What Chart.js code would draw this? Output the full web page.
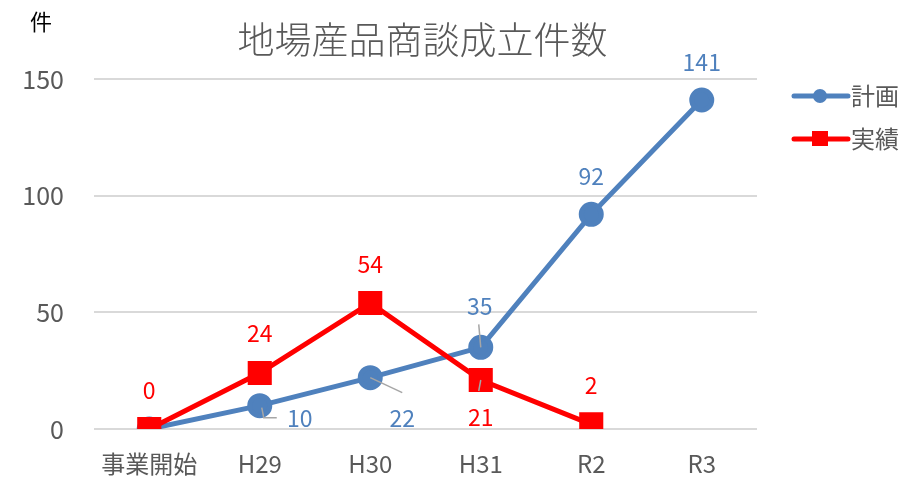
<!DOCTYPE html>
<html>
<head>
<meta charset="utf-8">
<script src="https://cdn.jsdelivr.net/npm/chart.js@4/dist/chart.umd.min.js"></script>
<style>
  html, body { margin: 0; padding: 0; background: #fff; }
  #wrap { width: 913px; height: 480px; }
</style>
</head>
<body>
<div id="wrap"><canvas id="salesChart" width="913" height="480"></canvas></div>
<script>
// data
const categories = ['事業開始', 'H29', 'H30', 'H31', 'R2', 'R3'];
const planValues = [0, 10, 22, 35, 92, 141];
const actualValues = [0, 24, 54, 21, 2, null];
const yTicks = [0, 50, 100, 150];

const chartTitle = '地場産品商談成立件数';
const unitLabel = '件';
const planName = '計画';
const actualName = '実績';

const FONT = '"Noto Sans CJK JP", "Noto Sans", sans-serif';
const BLUE = '#4F81BD';
const RED = '#FF0000';
const GREY_TEXT = '#595959';

// label offsets (dx, dy from the point) and the kind of leader line
const planLabelPos = [null, [40, 13, 'elbow'], [32, 41, 'line'], [-1, -41, 'line'], [0, -38], [0, -38]];
const actualLabelPos = [[0, -39], [0, -40], [0, -39], [0, 37, 'line'], [0, -39], null];

//  Draws title, unit label, data labels and legend
const decorPlugin = {
  id: 'decor',
  afterDatasetsDraw(chart) {
    const ctx = chart.ctx;
    const area = chart.chartArea;
    ctx.save();
    ctx.textAlign = 'center';
    ctx.textBaseline = 'middle';

    ctx.fillStyle = GREY_TEXT;
    ctx.font = '300 37px ' + FONT;
    ctx.fillText(chartTitle, (area.left + area.right) / 2 - 3, 40);

    ctx.fillStyle = '#000';
    ctx.font = '22px ' + FONT;
    ctx.fillText(unitLabel, 41, 22);

    drawLabels(chart, 0, planLabelPos, BLUE);
    drawLabels(chart, 1, actualLabelPos, RED);

    // legend
    drawLegendItem(ctx, 794, 96, BLUE, 'circle', planName);
    drawLegendItem(ctx, 794, 139, RED, 'rect', actualName);
    ctx.restore();
  }
};

function drawLabels(chart, dsIndex, offsets, color) {
  const ctx = chart.ctx;
  const meta = chart.getDatasetMeta(dsIndex);
  const values = chart.data.datasets[dsIndex].data;
  meta.data.forEach((pt, i) => {
    const off = offsets[i];
    if (!off || values[i] === null) return;
    const lx = pt.x + off[0];
    const ly = pt.y + off[1];
    ctx.strokeStyle = '#A6A6A6';
    ctx.lineWidth = 1.5;
    if (off[2] === 'line') {
      ctx.beginPath();
      ctx.moveTo(pt.x, pt.y);
      ctx.lineTo(pt.x + (off[0] > 20 ? off[0] : -2), off[1] > 0 ? ly - 26 : ly + 18);
      ctx.stroke();
    } else if (off[2] === 'elbow') {
      ctx.beginPath();
      ctx.moveTo(pt.x + 2, pt.y + 2);
      ctx.lineTo(pt.x + 4, pt.y + 12);
      ctx.lineTo(pt.x + 17, pt.y + 12);
      ctx.stroke();
    }
    ctx.fillStyle = color;
    ctx.font = '23px ' + FONT;
    ctx.fillText(String(values[i]), lx, ly);
  });
}

function drawLegendItem(ctx, x, y, color, shape, text) {
  ctx.strokeStyle = color;
  ctx.fillStyle = color;
  ctx.lineWidth = 5;
  ctx.lineCap = 'round';
  ctx.beginPath();
  ctx.moveTo(x, y);
  ctx.lineTo(x + 54, y);
  ctx.stroke();
  if (shape === 'circle') {
    ctx.beginPath();
    ctx.arc(x + 26, y, 7, 0, Math.PI * 2);
    ctx.fill();
  } else {
    ctx.fillRect(x + 18, y - 8, 16, 15);
  }
  ctx.fillStyle = GREY_TEXT;
  ctx.font = '24px ' + FONT;
  ctx.textAlign = 'left';
  ctx.fillText(text, x + 57, y);
  ctx.textAlign = 'center';
}

const salesChart = new Chart(document.getElementById('salesChart').getContext('2d'), {
  type: 'line',
  data: {
    labels: categories,
    datasets: [
      {
        label: planName,
        data: planValues,
        borderColor: BLUE,
        backgroundColor: BLUE,
        borderWidth: 5,
        pointStyle: 'circle',
        pointRadius: 10,
        pointHoverRadius: 10,
        order: 2
      },
      {
        label: actualName,
        data: actualValues,
        borderColor: RED,
        backgroundColor: RED,
        borderWidth: 5,
        pointStyle: 'rect',
        pointRadius: 13.5,
        pointHoverRadius: 13.5,
        order: 1
      }
    ]
  },
  options: {
    responsive: false,
    animation: false,
    events: [],
    layout: { padding: { top: 79, right: 156, bottom: 0, left: 0 } },
    plugins: {
      legend: { display: false },
      title: { display: false },
      tooltip: { enabled: false }
    },
    scales: {
      x: {
        offset: true,
        grid: { display: false, drawTicks: false },
        border: { display: false },
        ticks: { color: GREY_TEXT, font: { family: FONT, size: 24 }, padding: 20 },
        afterFit(scale) { scale.height = 51; }
      },
      y: {
        min: 0,
        max: 150,
        afterBuildTicks(scale) { scale.ticks = yTicks.map(v => ({ value: v })); },
        grid: { color: '#D9D9D9', lineWidth: 2, drawTicks: false },
        border: { display: false },
        ticks: { color: GREY_TEXT, font: { family: FONT, size: 25 }, padding: 30 },
        afterFit(scale) { scale.width = 94; }
      }
    }
  },
  plugins: [decorPlugin]
});
</script>
</body>
</html>
